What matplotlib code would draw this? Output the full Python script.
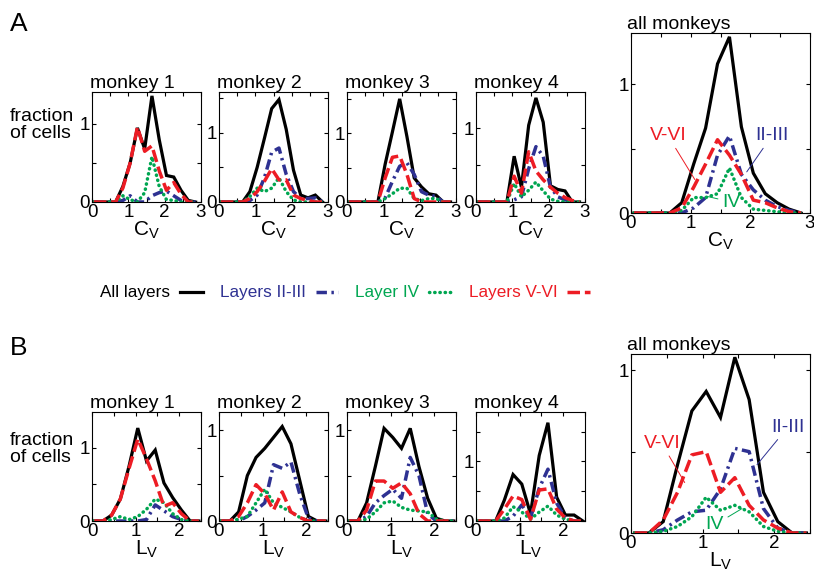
import matplotlib
matplotlib.use("Agg")
import matplotlib.pyplot as plt
import numpy as np

plt.rcParams['font.family'] = ['Liberation Sans', 'DejaVu Sans']
plt.rcParams['mathtext.fontset'] = 'custom'
plt.rcParams['mathtext.rm'] = 'Liberation Sans'
plt.rcParams['mathtext.it'] = 'Liberation Sans'

# bin centres
cv_x = [0.05, 0.25, 0.45, 0.65, 0.85, 1.05, 1.25, 1.45, 1.65, 1.85, 2.05, 2.25, 2.45, 2.65, 2.85]
lv_x = [0.05, 0.25, 0.45, 0.65, 0.85, 1.05, 1.25, 1.45, 1.65, 1.85, 2.05, 2.25, 2.45]

titles = ['monkey 1', 'monkey 2', 'monkey 3', 'monkey 4', 'all monkeys']

# C_V distributions, one row per panel (monkey 1-4, all monkeys)
cv_all = [
    [0, 0, 0, 0, 0.2, 0.5, 0.95, 0.68, 1.36, 0.8, 0.34, 0.32, 0.15, 0.02, 0],
    [0, 0, 0, 0, 0.15, 0.5, 0.92, 1.35, 1.48, 1.05, 0.46, 0.1, 0.06, 0.1, 0],
    [0, 0, 0, 0, 0, 0.55, 1.02, 1.5, 0.95, 0.35, 0.22, 0.12, 0.1, 0, 0],
    [0, 0, 0, 0, 0, 0.62, 0.2, 1.04, 1.41, 1.08, 0.22, 0.17, 0.15, 0, 0],
    [0, 0, 0, 0, 0.08, 0.38, 0.66, 1.16, 1.37, 0.67, 0.31, 0.15, 0.08, 0.03, 0],
]
cv_23 = [
    [0, 0, 0, 0, 0.02, 0.08, 0, 0, 0.08, 0.12, 0.14, 0.08, 0.02, 0, 0],
    [0, 0, 0, 0, 0.02, 0.1, 0.35, 0.72, 0.78, 0.4, 0.15, 0.05, 0.05, 0.06, 0],
    [0, 0, 0, 0, 0, 0.06, 0.3, 0.52, 0.57, 0.4, 0.15, 0.1, 0.08, 0, 0],
    [0, 0, 0, 0, 0, 0.03, 0.07, 0.45, 0.75, 0.62, 0.2, 0.07, 0.03, 0, 0],
    [0, 0, 0, 0, 0, 0.04, 0.12, 0.45, 0.6, 0.3, 0.18, 0.1, 0.05, 0.02, 0],
]
cv_4 = [
    [0, 0, 0, 0, 0.08, 0.03, 0, 0.12, 0.58, 0.2, 0.03, 0.02, 0, 0, 0],
    [0, 0, 0, 0, 0.08, 0.2, 0.15, 0.2, 0.35, 0.15, 0.03, 0, 0, 0, 0],
    [0, 0, 0, 0, 0, 0.05, 0.12, 0.2, 0.2, 0.05, 0.02, 0.05, 0.05, 0, 0],
    [0, 0, 0, 0, 0, 0.25, 0.07, 0.16, 0.27, 0.15, 0.04, 0.01, 0, 0, 0],
    [0, 0, 0, 0, 0.02, 0.12, 0.12, 0.15, 0.35, 0.12, 0.03, 0.02, 0.01, 0, 0],
]
cv_56 = [
    [0, 0, 0, 0, 0.18, 0.5, 0.96, 0.65, 0.72, 0.4, 0.15, 0.25, 0.1, 0, 0],
    [0, 0, 0, 0, 0.05, 0.15, 0.3, 0.48, 0.32, 0.32, 0.1, 0.05, 0.02, 0, 0],
    [0, 0, 0, 0, 0, 0.35, 0.65, 0.67, 0.4, 0.05, 0, 0, 0, 0, 0],
    [0, 0, 0, 0, 0, 0.35, 0.12, 0.68, 0.42, 0.3, 0.2, 0.12, 0.06, 0.02, 0],
    [0, 0, 0, 0, 0.04, 0.2, 0.38, 0.57, 0.45, 0.3, 0.1, 0.08, 0.04, 0.01, 0],
]

# L_V distributions
lv_all = [
    [0, 0, 0.08, 0.3, 0.75, 1.27, 0.82, 0.97, 0.52, 0.32, 0.15, 0, 0],
    [0, 0, 0.1, 0.5, 0.7, 0.8, 0.92, 1.04, 0.85, 0.45, 0.05, 0, 0],
    [0, 0, 0.2, 0.6, 1.02, 0.92, 0.8, 1.02, 0.6, 0.25, 0.03, 0, 0],
    [0, 0, 0, 0.35, 0.78, 0.62, 0.12, 1.1, 1.65, 0.4, 0.1, 0.1, 0],
    [0, 0, 0.07, 0.42, 0.75, 0.87, 0.71, 1.08, 0.82, 0.25, 0.07, 0, 0],
]
lv_23 = [
    [0, 0, 0, 0, 0, 0, 0.02, 0.22, 0.14, 0.06, 0.02, 0, 0],
    [0, 0, 0, 0.05, 0.12, 0.2, 0.62, 0.58, 0.65, 0.3, 0.03, 0, 0],
    [0, 0, 0.05, 0.2, 0.28, 0.35, 0.25, 0.7, 0.5, 0.08, 0, 0, 0],
    [0, 0, 0, 0, 0.08, 0.27, 0.05, 0.55, 0.87, 0.3, 0.05, 0, 0],
    [0, 0, 0.02, 0.08, 0.13, 0.14, 0.27, 0.52, 0.5, 0.15, 0.03, 0, 0],
]
lv_4 = [
    [0, 0, 0.02, 0.06, 0.02, 0.06, 0.16, 0.3, 0.25, 0.1, 0.02, 0, 0],
    [0, 0, 0.02, 0.05, 0.2, 0.35, 0.2, 0.15, 0.1, 0.04, 0, 0, 0],
    [0, 0, 0.02, 0.1, 0.2, 0.22, 0.15, 0.12, 0.11, 0.1, 0.02, 0, 0],
    [0, 0, 0, 0.05, 0.24, 0.15, 0.03, 0.15, 0.25, 0.1, 0.03, 0, 0],
    [0, 0, 0.01, 0.04, 0.1, 0.22, 0.14, 0.17, 0.13, 0.04, 0.01, 0, 0],
]
lv_56 = [
    [0, 0, 0.08, 0.3, 0.72, 1.12, 0.85, 0.55, 0.2, 0.25, 0.1, 0, 0],
    [0, 0, 0.05, 0.2, 0.4, 0.3, 0.12, 0.32, 0.1, 0.04, 0, 0, 0],
    [0, 0, 0.12, 0.44, 0.44, 0.36, 0.42, 0.3, 0.08, 0, 0, 0, 0],
    [0, 0, 0, 0.2, 0.42, 0.36, 0.03, 0.52, 0.54, 0.2, 0.05, 0, 0],
    [0, 0, 0.08, 0.25, 0.48, 0.5, 0.25, 0.34, 0.17, 0.08, 0.03, 0, 0],
]

cv_ymax = [1.41, 1.59, 1.6, 1.49, 1.40]
lv_ymax = [1.49, 1.2, 1.2, 1.83, 1.1]

BLACK = 'black'
BLUE = '#2e3192'
GREEN = '#00a651'
RED = '#ed1c24'

layer_names = ['All layers', 'Layers II-III', 'Layer IV', 'Layers V-VI']


def draw_curves(ax, x, a, b, c, d):
    h1, = ax.plot(x, a, color=BLACK, lw=2.3, solid_joinstyle='miter')
    h2, = ax.plot(x, b, color=BLUE, lw=2.5, dashes=(3, 1.3, 0.7, 1.3))
    h3, = ax.plot(x, c, color=GREEN, lw=2.5, dashes=(0.1, 1.4), dash_capstyle='round')
    h4, = ax.plot(x, d, color=RED, lw=2.5, dashes=(3.6, 1.4))
    return [h1, h2, h3, h4]


def style_axis(ax, xmax, ymax):
    ax.set_xlim(0, xmax)
    ax.set_ylim(0, ymax)
    xt = np.arange(0, xmax + 0.01, 0.5)
    yt = np.arange(0, ymax + 0.01, 0.5)
    ax.set_xticks(xt)
    ax.set_xticklabels([f'{t:g}' if t == int(t) else '' for t in xt])
    ax.set_yticks(yt)
    ax.set_yticklabels([f'{t:g}' if t == int(t) else '' for t in yt])
    ax.tick_params(direction='in', top=True, right=True, length=3, width=0.8,
                   labelsize=13.5, pad=1.5)
    for s in ax.spines.values():
        s.set_linewidth(0.8)


fig = plt.figure(figsize=(8.14, 5.71), dpi=100)
W, H = 814, 571

small_left = [92, 219, 347, 476]
small_w = 109

handles = None
for row, (x, xmax, d_all, d_23, d_4, d_56, ymaxs, xl) in enumerate([
        (cv_x, 3, cv_all, cv_23, cv_4, cv_56, cv_ymax, r'C$_\mathrm{V}$'),
        (lv_x, 2.5, lv_all, lv_23, lv_4, lv_56, lv_ymax, r'L$_\mathrm{V}$')]):
    if row == 0:
        s_top, s_bot, b_top, b_bot = 92, 202, 33, 213
    else:
        s_top, s_bot, b_top, b_bot = 412, 521, 354, 533
    for i in range(5):
        if i < 4:
            rect = [small_left[i] / W, 1 - s_bot / H, small_w / W, (s_bot - s_top) / H]
        else:
            rect = [631 / W, 1 - b_bot / H, 179 / W, (b_bot - b_top) / H]
        ax = fig.add_axes(rect)
        hs = draw_curves(ax, x, d_all[i], d_23[i], d_4[i], d_56[i])
        if handles is None:
            handles = hs
        style_axis(ax, xmax, ymaxs[i])
        ax.set_title(titles[i], fontsize=14, loc='left', pad=3, x=-0.02)
        ax.set_xlabel(xl, fontsize=15, labelpad=-1)
        if i == 4:
            if row == 0:
                ax.annotate('V-VI', xy=(1.07, 0.26), xytext=(0.62, 0.6), color=RED,
                            fontsize=14, ha='center', va='center',
                            arrowprops=dict(arrowstyle='-', color=RED, lw=0.7,
                                            shrinkA=1, shrinkB=0))
                ax.annotate('II-III', xy=(1.94, 0.32), xytext=(2.36, 0.6), color=BLUE,
                            fontsize=14, ha='center', va='center',
                            arrowprops=dict(arrowstyle='-', color=BLUE, lw=0.7,
                                            shrinkA=1, shrinkB=0))
                ax.annotate('IV', xy=(1.27, 0.13), xytext=(1.68, 0.085), color=GREEN,
                            fontsize=14, ha='center', va='center',
                            arrowprops=dict(arrowstyle='-', color=GREEN, lw=0.7,
                                            shrinkA=1, shrinkB=0))
            else:
                ax.annotate('V-VI', xy=(0.75, 0.31), xytext=(0.43, 0.55), color=RED,
                            fontsize=14, ha='center', va='center',
                            arrowprops=dict(arrowstyle='-', color=RED, lw=0.7,
                                            shrinkA=1, shrinkB=0))
                ax.annotate('II-III', xy=(1.76, 0.42), xytext=(2.19, 0.65), color=BLUE,
                            fontsize=14, ha='center', va='center',
                            arrowprops=dict(arrowstyle='-', color=BLUE, lw=0.7,
                                            shrinkA=1, shrinkB=0))
                ax.annotate('IV', xy=(1.55, 0.15), xytext=(1.17, 0.05), color=GREEN,
                            fontsize=14, ha='center', va='center',
                            arrowprops=dict(arrowstyle='-', color=GREEN, lw=0.7,
                                            shrinkA=1, shrinkB=0))

# panel letters and shared y labels
fig.text(10 / W, 1 - 12 / H, 'A', fontsize=19, va='top', ha='left')
fig.text(10 / W, 1 - 336 / H, 'B', fontsize=19, va='top', ha='left')
fig.text(10 / W, 1 - 125 / H, 'fraction\nof cells', fontsize=14, va='center',
         ha='left', linespacing=1.05)
fig.text(10 / W, 1 - 449 / H, 'fraction\nof cells', fontsize=14, va='center',
         ha='left', linespacing=1.05)

fig.legend(handles, layer_names, loc='center left', bbox_to_anchor=(0.123, 1 - 293 / H),
           ncol=4, frameon=False, markerfirst=False, labelcolor='linecolor',
           fontsize=12.3, handlelength=1.3, handletextpad=0.6, columnspacing=1.0,
           borderpad=0.0, borderaxespad=0.0)

fig.savefig('out.png', dpi=100)
